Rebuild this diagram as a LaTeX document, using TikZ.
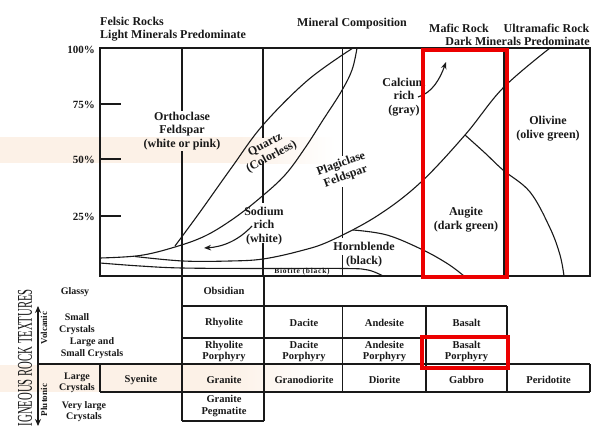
\documentclass[tikz,border=0pt]{standalone}
\usepackage{fontspec}
\setmainfont{Liberation Serif}
\usetikzlibrary{arrows.meta}
\definecolor{ink}{RGB}{25,25,25}
\definecolor{peach}{RGB}{252,241,231}
\definecolor{redbox}{RGB}{236,0,0}
\begin{document}
\begin{tikzpicture}[x=1pt,y=-1pt,
  frame/.style={draw=ink, line width=1.6pt},
  thin/.style={draw=ink, line width=1.2pt},
  curve/.style={draw=ink, line width=1.1pt},
  lbl/.style={font=\bfseries\fontsize{12}{13.5}\selectfont, align=center, inner sep=0pt, text=ink},
  cell/.style={font=\bfseries\fontsize{10.5}{11.5}\selectfont, align=center, inner sep=0pt, text=ink},
  side/.style={font=\bfseries\fontsize{10}{11.5}\selectfont, align=center, inner sep=0pt, text=ink},
  head/.style={font=\bfseries\fontsize{12}{13}\selectfont, inner sep=0pt, text=ink},
  pct/.style={font=\bfseries\fontsize{11}{12}\selectfont, inner sep=0pt, anchor=east, text=ink},
  hl/.style={draw=redbox, line width=3.6pt},
  arr/.style={draw=ink, line width=1.1pt, -{Stealth[length=7pt,width=5.5pt]}}
]
\useasboundingbox[fill=white] (0,0) rectangle (597,428);
% faint bands
\fill[peach] (0,137) rectangle (240,163);
\shade[left color=peach,right color=white] (239.5,137) rectangle (335,163);
\fill[peach] (0,365) rectangle (230,392);
\shade[left color=peach,right color=white] (229.5,365) rectangle (330,392);

% chart frame and ticks
\draw[frame] (100,48) rectangle (590,276);
\draw[frame] (100,104) -- (121,104);
\draw[frame] (100,159) -- (121,159);
\draw[frame] (100,216) -- (121,216);
\node[pct] (p100) at (95,50) {100\%};
\node[pct] (p75) at (95,105) {75\%};
\node[pct] (p50) at (95,160) {50\%};
\node[pct] (p25) at (95,217) {25\%};

% vertical lines in chart
\draw[thin] (182,48) -- (182,111);
\draw[thin] (182,151) -- (182,276);
\draw[thin] (263,48) -- (263,138);
\draw[thin] (263,161) -- (263,203);
\draw[thin] (263,243) -- (263,276);
\draw[thin] (342.5,48) -- (342.5,156);
\draw[thin] (342.5,187) -- (342.5,238);
\draw[thin] (342.5,255) -- (342.5,276);
\draw[thin] (504,48) -- (504,276);

% curves
\draw[curve] plot[smooth, tension=0.6] coordinates {(175,246) (200,212) (232,167) (263,125) (308,80) (353,48)};
\draw[curve] plot[smooth, tension=0.6] coordinates {(100,258) (140,255.5) (175,247) (205,236) (233,219) (260,198) (285,175) (305,148) (323,120) (341,92) (352,70) (357,48)};
\draw[curve] plot[smooth, tension=0.6] coordinates {(135,256.5) (183,261) (230,261) (263,259) (300,251) (330,241) (377,216) (420,183) (465,135) (503,88) (550,48)};
\draw[curve] plot[smooth, tension=0.6] coordinates {(465,135) (485,153) (503,170) (530,192) (550,228) (560,255) (564,276)};
\draw[curve] plot[smooth, tension=0.6] coordinates {(353,230) (387,235) (423,250) (448,264) (464,276)};
\draw[curve] plot[smooth, tension=0.6] coordinates {(100,263) (140,266) (182,268) (260,268.5) (345,268.5) (368,270) (383,276)};

% chart labels
\node[lbl] (ortho) at (182,131) {Orthoclase\\Feldspar\\(white or pink)};
\node[lbl, rotate=28] (quartz) at (268.5,151) {Quartz\\(Colorless)};
\node[lbl, rotate=20] (plag) at (343.5,170.5) {Plagiclase\\Feldspar};
\node[lbl] (sodium) at (264,226) {Sodium\\rich\\(white)};
\node[lbl] (hornb) at (364,254.5) {Hornblende\\(black)};
\node[inner sep=0pt, text=ink, font=\bfseries\fontsize{7.5}{8}\selectfont\addfontfeature{LetterSpace=10}] (biot) at (302,272) {Biotite (black)};
\node[lbl] (calc) at (404,97) {Calcium\\rich\\(gray)};
\node[lbl] (augite) at (466,219.5) {Augite\\(dark green)};
\node[lbl] (olivine) at (548,128.5) {Olivine\\(olive green)};

% arrows
\coordinate (naTail) at (252,226);
\coordinate (naHead) at (204,248);
\draw[arr] (naTail) .. controls (238,241) and (222,247) .. (naHead);
\coordinate (caTail) at (418,97);
\coordinate (caHead) at (446,62);
\draw[arr] (caTail) .. controls (432,93) and (440,79) .. (caHead);

% headings
\node[head, anchor=north west, align=left] (felsic) at (100,16.5) {Felsic Rocks\\Light Minerals Predominate};
\node[head, anchor=base] (mincomp) at (352,27) {Mineral Composition};
\node[head, anchor=base] (mafic) at (459,33) {Mafic Rock};
\node[head, anchor=base] (ultra) at (546.5,33) {Ultramafic Rock};
\node[head, anchor=base east] (dark) at (590,46) {Dark Minerals Predominate};

% table
\draw[frame] (182,276) -- (182,421);
\draw[frame] (264,276) -- (264,421);
\draw[frame] (182,306) -- (507,306);
\draw[frame] (182,338) -- (507,338);
\draw[frame] (38,364) -- (590,364);
\draw[frame] (100,392) -- (590,392);
\draw[frame] (182,421) -- (264,421);
\draw[frame] (100,364) -- (100,392);
\draw[frame] (342.5,306) -- (342.5,392);
\draw[frame] (426,306) -- (426,392);
\draw[frame] (507,306) -- (507,392);
\draw[frame] (590,364) -- (590,392);

\node[cell] (obs) at (224,291) {Obsidian};
\node[cell] (rhy) at (224,323) {Rhyolite};
\node[cell] (dac) at (304,323) {Dacite};
\node[cell] (and) at (384.5,323) {Andesite};
\node[cell] (bas) at (466.5,323) {Basalt};
\node[cell] (rhyp) at (224,351.5) {Rhyolite\\Porphyry};
\node[cell] (dacp) at (304,351.5) {Dacite\\Porphyry};
\node[cell] (andp) at (384.5,351.5) {Andesite\\Porphyry};
\node[cell] (basp) at (466.5,351.5) {Basalt\\Porphyry};
\node[cell] (sye) at (141,380) {Syenite};
\node[cell] (gra) at (224,380) {Granite};
\node[cell] (grd) at (304,380) {Granodiorite};
\node[cell] (dio) at (384.5,380) {Diorite};
\node[cell] (gab) at (466.5,380) {Gabbro};
\node[cell] (per) at (548.5,380) {Peridotite};
\node[cell] (peg) at (224,406) {Granite\\Pegmatite};

% side labels
\node[side] (glassy) at (75,292) {Glassy};
\node[side] (small) at (77,324) {Small\\Crystals};
\node[side] (lands) at (92,348) {Large and\\Small Crystals};
\node[side] (large) at (77,383) {Large\\Crystals};
\node[side] (vlarge) at (84,411.5) {Very large\\Crystals};
\node[inner sep=0pt, rotate=90, text=ink, font=\bfseries\fontsize{9}{10}\selectfont] (volc) at (44,328) {Volcanic};
\node[inner sep=0pt, rotate=90, text=ink, font=\bfseries\fontsize{9}{10}\selectfont] (plut) at (44,400) {Plutonic};
\node[inner sep=0pt, rotate=90, anchor=east, text=ink, font=\fontsize{21}{22}\selectfont] (igneous) at (25,289) {\scalebox{0.51}[1]{IGNEOUS ROCK TEXTURES}};
\draw[ink, line width=1.3pt, {Stealth[length=7pt,width=6pt]}-{Stealth[length=7pt,width=6pt]}] (38,306) -- (38,426);

% highlights
\draw[hl] (423,50) rectangle (507,277);
\draw[hl] (422,337) rectangle (508,368);
\end{tikzpicture}
\end{document}
